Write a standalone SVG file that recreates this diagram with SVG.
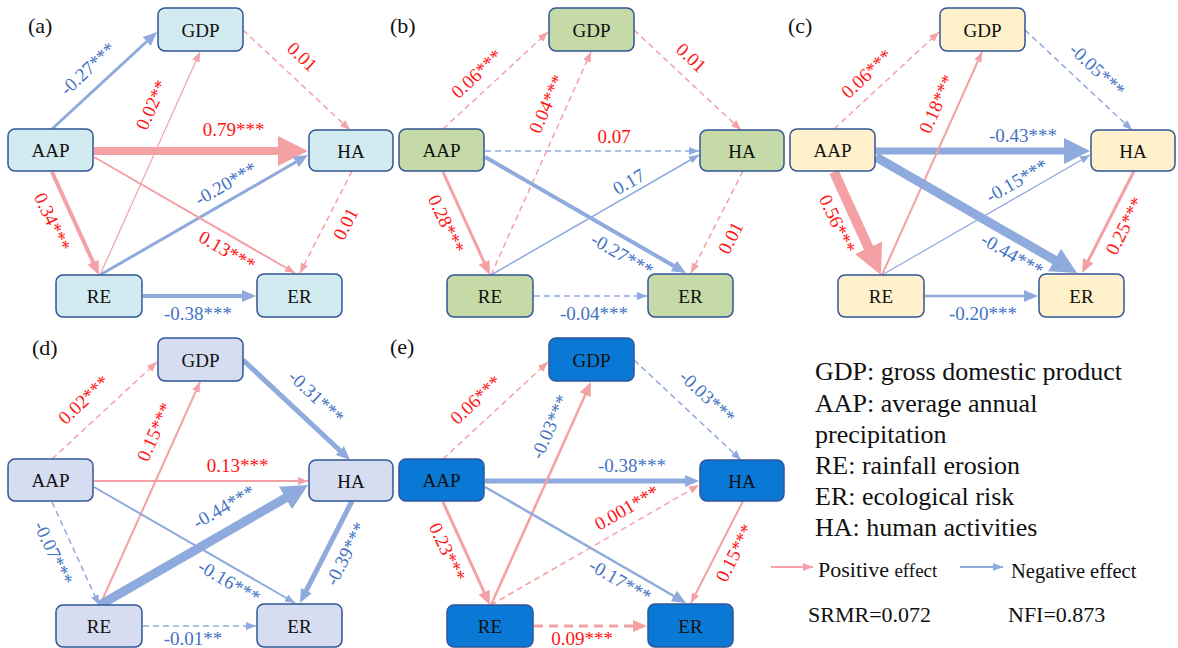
<svg xmlns="http://www.w3.org/2000/svg" width="1178" height="648" viewBox="0 0 1178 648" font-family="Liberation Serif, Times New Roman, serif">
<style>
.nr{stroke:#2F5597;stroke-width:1.5}
.fa{fill:#D2EBF0}.fb{fill:#C5DAA6}.fc{fill:#FFF1CB}.fd{fill:#D6DDF1}.fe{fill:#0A79D6}
.p{stroke:#F4A1A6;fill:none}.bl{stroke:#8FAADC;fill:none}
.d{stroke-dasharray:6 4}
.ps{marker-end:url(#ps)}.bs{marker-end:url(#bs)}.pm{marker-end:url(#pm)}.bm{marker-end:url(#bm)}.bL{marker-end:url(#bL)}.pX{marker-end:url(#pX)}
</style>
<defs>
<marker id="ps" markerUnits="userSpaceOnUse" markerWidth="10" markerHeight="8" refX="10" refY="4" orient="auto"><path d="M0,0 L10,4 L0,8 Z" fill="#F4A1A6"/></marker>
<marker id="bs" markerUnits="userSpaceOnUse" markerWidth="10" markerHeight="8" refX="10" refY="4" orient="auto"><path d="M0,0 L10,4 L0,8 Z" fill="#8FAADC"/></marker>
<marker id="pm" markerUnits="userSpaceOnUse" markerWidth="14" markerHeight="12" refX="3" refY="6" orient="auto"><path d="M0,0 L14,6 L0,12 Z" fill="#F4A1A6"/></marker>
<marker id="bm" markerUnits="userSpaceOnUse" markerWidth="14" markerHeight="12" refX="3" refY="6" orient="auto"><path d="M0,0 L14,6 L0,12 Z" fill="#8FAADC"/></marker>
<marker id="bL" markerUnits="userSpaceOnUse" markerWidth="26" markerHeight="26" refX="6" refY="13" orient="auto"><path d="M0,0 L26,13 L0,26 Z" fill="#8FAADC"/></marker>
<marker id="pX" markerUnits="userSpaceOnUse" markerWidth="30" markerHeight="30" refX="6" refY="15" orient="auto"><path d="M0,0 L30,15 L0,30 Z" fill="#F4A1A6"/></marker>
</defs>
<rect width="1178" height="648" fill="#fff"/>

<!-- panel labels -->
<g fill="#111">
<text font-family="Liberation Serif, serif" font-size="22" x="28" y="33">(a)</text>
<text font-family="Liberation Serif, serif" font-size="22" x="390" y="33">(b)</text>
<text font-family="Liberation Serif, serif" font-size="22" x="788" y="33">(c)</text>
<text font-family="Liberation Serif, serif" font-size="22" x="32" y="355">(d)</text>
<text font-family="Liberation Serif, serif" font-size="22" x="390" y="354">(e)</text>
</g>

<!-- ===== Panel a ===== -->
<g transform="translate(0,0)">
<g id="a-connectors">
<path class="bl bm" stroke-width="3" d="M52,129 L148.9,39.5"/>
<path class="p d ps" stroke-width="1.5" d="M243,30 L350,130"/>
<path class="p pX" stroke-width="8" d="M94,151 L284,151"/>
<path class="p pm" stroke-width="4" d="M52,172 L94.4,265"/>
<path class="p ps" stroke-width="1.2" d="M100,275 L200,52"/>
<path class="bl bm" stroke-width="3" d="M100,275 L298.5,160.5"/>
<path class="p ps" stroke-width="2" d="M94,157 L295,273"/>
<path class="p d ps" stroke-width="1.5" d="M352,171 L300,273"/>
<path class="bl bm" stroke-width="4" d="M143,296 L245,296"/>
<text font-family="Liberation Serif, serif" font-size="19" text-anchor="middle" fill="#4472C4" transform="translate(88,69) rotate(-43)" y="6">-0.27***</text>
<text font-family="Liberation Serif, serif" font-size="19" text-anchor="middle" fill="#FF1414" transform="translate(302,57) rotate(43)" y="6">0.01</text>
<text font-family="Liberation Serif, serif" font-size="19" text-anchor="middle" fill="#FF1414" x="233.5" y="136">0.79***</text>
<text font-family="Liberation Serif, serif" font-size="19" text-anchor="middle" fill="#FF1414" transform="translate(52,222) rotate(65)" y="6">0.34***</text>
<text font-family="Liberation Serif, serif" font-size="19" text-anchor="middle" fill="#FF1414" transform="translate(152,105) rotate(-66)" y="6">0.02**</text>
<text font-family="Liberation Serif, serif" font-size="19" text-anchor="middle" fill="#4472C4" transform="translate(226,184) rotate(-30)" y="6">-0.20***</text>
<text font-family="Liberation Serif, serif" font-size="19" text-anchor="middle" fill="#FF1414" transform="translate(227,251) rotate(30)" y="6">0.13***</text>
<text font-family="Liberation Serif, serif" font-size="19" text-anchor="middle" fill="#FF1414" transform="translate(346,224) rotate(-63)" y="6">0.01</text>
<text font-family="Liberation Serif, serif" font-size="19" text-anchor="middle" fill="#4472C4" x="198" y="320">-0.38***</text>
</g>
<g id="a-GDP"><rect class="nr fa" x="158" y="8" width="85" height="43" rx="7"/><text font-family="Liberation Serif, serif" font-size="19" text-anchor="middle" fill="#111" x="200.5" y="37">GDP</text></g>
<g id="a-AAP"><rect class="nr fa" x="8" y="129" width="85" height="42" rx="7"/><text font-family="Liberation Serif, serif" font-size="19" text-anchor="middle" fill="#111" x="50.5" y="157">AAP</text></g>
<g id="a-HA"><rect class="nr fa" x="309" y="130" width="84" height="41" rx="7"/><text font-family="Liberation Serif, serif" font-size="19" text-anchor="middle" fill="#111" x="351" y="157.5">HA</text></g>
<g id="a-RE"><rect class="nr fa" x="56" y="275" width="86" height="42" rx="7"/><text font-family="Liberation Serif, serif" font-size="19" text-anchor="middle" fill="#111" x="99" y="303">RE</text></g>
<g id="a-ER"><rect class="nr fa" x="257" y="274" width="85" height="43" rx="7"/><text font-family="Liberation Serif, serif" font-size="19" text-anchor="middle" fill="#111" x="299.5" y="303">ER</text></g>
</g>

<!-- ===== Panel b ===== -->
<g transform="translate(391,0)">
<g id="b-connectors">
<path class="p d ps" stroke-width="1.5" d="M52,129 L157,32"/>
<path class="p d ps" stroke-width="1.5" d="M243,30 L350,130"/>
<path class="bl d bs" stroke-width="1.5" d="M94,151 L308,151"/>
<path class="p pm" stroke-width="3" d="M52,172 L94.4,265"/>
<path class="p d ps" stroke-width="1.5" d="M100,275 L200,52"/>
<path class="bl bs" stroke-width="1.5" d="M100,275 L308,155"/>
<path class="bl bm" stroke-width="4" d="M94,157 L285.5,267.5"/>
<path class="p d ps" stroke-width="1.5" d="M352,171 L300,273"/>
<path class="bl d bs" stroke-width="1.5" d="M143,296 L256,296"/>
<text font-family="Liberation Serif, serif" font-size="19" text-anchor="middle" fill="#FF1414" transform="translate(86,74) rotate(-43)" y="6">0.06***</text>
<text font-family="Liberation Serif, serif" font-size="19" text-anchor="middle" fill="#FF1414" transform="translate(300,58) rotate(43)" y="6">0.01</text>
<text font-family="Liberation Serif, serif" font-size="19" text-anchor="middle" fill="#FF1414" x="223" y="143">0.07</text>
<text font-family="Liberation Serif, serif" font-size="19" text-anchor="middle" fill="#FF1414" transform="translate(55,224) rotate(65)" y="6">0.28***</text>
<text font-family="Liberation Serif, serif" font-size="19" text-anchor="middle" fill="#FF1414" transform="translate(156,104) rotate(-66)" y="6">0.04***</text>
<text font-family="Liberation Serif, serif" font-size="19" text-anchor="middle" fill="#4472C4" transform="translate(238,182) rotate(-30)" y="6">0.17</text>
<text font-family="Liberation Serif, serif" font-size="19" text-anchor="middle" fill="#4472C4" transform="translate(231,255) rotate(30)" y="6">-0.27***</text>
<text font-family="Liberation Serif, serif" font-size="19" text-anchor="middle" fill="#FF1414" transform="translate(340,238) rotate(-63)" y="6">0.01</text>
<text font-family="Liberation Serif, serif" font-size="19" text-anchor="middle" fill="#4472C4" x="203" y="320">-0.04***</text>
</g>
<g id="b-GDP"><rect class="nr fb" x="158" y="8" width="85" height="43" rx="7"/><text font-family="Liberation Serif, serif" font-size="19" text-anchor="middle" fill="#111" x="200.5" y="37">GDP</text></g>
<g id="b-AAP"><rect class="nr fb" x="8" y="129" width="85" height="42" rx="7"/><text font-family="Liberation Serif, serif" font-size="19" text-anchor="middle" fill="#111" x="50.5" y="157">AAP</text></g>
<g id="b-HA"><rect class="nr fb" x="309" y="130" width="84" height="41" rx="7"/><text font-family="Liberation Serif, serif" font-size="19" text-anchor="middle" fill="#111" x="351" y="157.5">HA</text></g>
<g id="b-RE"><rect class="nr fb" x="56" y="275" width="86" height="42" rx="7"/><text font-family="Liberation Serif, serif" font-size="19" text-anchor="middle" fill="#111" x="99" y="303">RE</text></g>
<g id="b-ER"><rect class="nr fb" x="257" y="274" width="85" height="43" rx="7"/><text font-family="Liberation Serif, serif" font-size="19" text-anchor="middle" fill="#111" x="299.5" y="303">ER</text></g>
</g>

<!-- ===== Panel c ===== -->
<g transform="translate(782,0)">
<g id="c-connectors">
<path class="p d ps" stroke-width="1.5" d="M52,129 L157,32"/>
<path class="bl d bs" stroke-width="1.5" d="M243,30 L350,130"/>
<path class="bl bL" stroke-width="7" d="M94,151 L288,151"/>
<path class="p pX" stroke-width="10" d="M52,172 L89,253.2"/>
<path class="p ps" stroke-width="2" d="M100,275 L200,52"/>
<path class="bl bs" stroke-width="1.2" d="M100,275 L308,155"/>
<path class="bl bL" stroke-width="9" d="M94,157 L277.7,263"/>
<path class="p pm" stroke-width="3" d="M352,171 L305,263.2"/>
<path class="bl bm" stroke-width="2.5" d="M143,296 L245,296"/>
<text font-family="Liberation Serif, serif" font-size="19" text-anchor="middle" fill="#FF1414" transform="translate(85,74) rotate(-43)" y="6">0.06***</text>
<text font-family="Liberation Serif, serif" font-size="19" text-anchor="middle" fill="#4472C4" transform="translate(315,70) rotate(43)" y="6">-0.05***</text>
<text font-family="Liberation Serif, serif" font-size="19" text-anchor="middle" fill="#4472C4" x="241" y="142">-0.43***</text>
<text font-family="Liberation Serif, serif" font-size="19" text-anchor="middle" fill="#FF1414" transform="translate(55,224) rotate(65)" y="6">0.56***</text>
<text font-family="Liberation Serif, serif" font-size="19" text-anchor="middle" fill="#FF1414" transform="translate(155,104) rotate(-66)" y="6">0.18***</text>
<text font-family="Liberation Serif, serif" font-size="19" text-anchor="middle" fill="#4472C4" transform="translate(235,181) rotate(-30)" y="6">-0.15***</text>
<text font-family="Liberation Serif, serif" font-size="19" text-anchor="middle" fill="#4472C4" transform="translate(230,255) rotate(30)" y="6">-0.44***</text>
<text font-family="Liberation Serif, serif" font-size="19" text-anchor="middle" fill="#FF1414" transform="translate(343,226) rotate(-63)" y="6">0.25***</text>
<text font-family="Liberation Serif, serif" font-size="19" text-anchor="middle" fill="#4472C4" x="201" y="320">-0.20***</text>
</g>
<g id="c-GDP"><rect class="nr fc" x="158" y="8" width="85" height="43" rx="7"/><text font-family="Liberation Serif, serif" font-size="19" text-anchor="middle" fill="#111" x="200.5" y="37">GDP</text></g>
<g id="c-AAP"><rect class="nr fc" x="8" y="129" width="85" height="42" rx="7"/><text font-family="Liberation Serif, serif" font-size="19" text-anchor="middle" fill="#111" x="50.5" y="157">AAP</text></g>
<g id="c-HA"><rect class="nr fc" x="309" y="130" width="84" height="41" rx="7"/><text font-family="Liberation Serif, serif" font-size="19" text-anchor="middle" fill="#111" x="351" y="157.5">HA</text></g>
<g id="c-RE"><rect class="nr fc" x="56" y="275" width="86" height="42" rx="7"/><text font-family="Liberation Serif, serif" font-size="19" text-anchor="middle" fill="#111" x="99" y="303">RE</text></g>
<g id="c-ER"><rect class="nr fc" x="257" y="274" width="85" height="43" rx="7"/><text font-family="Liberation Serif, serif" font-size="19" text-anchor="middle" fill="#111" x="299.5" y="303">ER</text></g>
</g>

<!-- ===== Panel d ===== -->
<g transform="translate(0,330)">
<g id="d-connectors">
<path class="p d ps" stroke-width="1.5" d="M52,129 L157,32"/>
<path class="bl bm" stroke-width="5" d="M243,30 L342,122.5"/>
<path class="p ps" stroke-width="2" d="M94,151 L308,151"/>
<path class="bl d bs" stroke-width="1.5" d="M52,172 L99,275"/>
<path class="p ps" stroke-width="2" d="M100,275 L200,52"/>
<path class="bl bL" stroke-width="9" d="M100,275 L290.7,165"/>
<path class="bl bs" stroke-width="2" d="M94,157 L295,273"/>
<path class="bl bm" stroke-width="5" d="M352,171 L305,263.2"/>
<path class="bl d bs" stroke-width="1.5" d="M143,296 L256,296"/>
<text font-family="Liberation Serif, serif" font-size="19" text-anchor="middle" fill="#FF1414" transform="translate(84,70) rotate(-43)" y="6">0.02***</text>
<text font-family="Liberation Serif, serif" font-size="19" text-anchor="middle" fill="#4472C4" transform="translate(316,67) rotate(43)" y="6">-0.31***</text>
<text font-family="Liberation Serif, serif" font-size="19" text-anchor="middle" fill="#FF1414" x="237.5" y="142">0.13***</text>
<text font-family="Liberation Serif, serif" font-size="19" text-anchor="middle" fill="#4472C4" transform="translate(53,223) rotate(65)" y="6">-0.07***</text>
<text font-family="Liberation Serif, serif" font-size="19" text-anchor="middle" fill="#FF1414" transform="translate(155,102) rotate(-66)" y="6">0.15***</text>
<text font-family="Liberation Serif, serif" font-size="19" text-anchor="middle" fill="#4472C4" transform="translate(224,177) rotate(-30)" y="6">-0.44***</text>
<text font-family="Liberation Serif, serif" font-size="19" text-anchor="middle" fill="#4472C4" transform="translate(229,252) rotate(30)" y="6">-0.16***</text>
<text font-family="Liberation Serif, serif" font-size="19" text-anchor="middle" fill="#4472C4" transform="translate(346,224) rotate(-63)" y="6">-0.39***</text>
<text font-family="Liberation Serif, serif" font-size="19" text-anchor="middle" fill="#4472C4" x="193" y="315">-0.01**</text>
</g>
<g id="d-GDP"><rect class="nr fd" x="158" y="8" width="85" height="43" rx="7"/><text font-family="Liberation Serif, serif" font-size="19" text-anchor="middle" fill="#111" x="200.5" y="37">GDP</text></g>
<g id="d-AAP"><rect class="nr fd" x="8" y="129" width="85" height="42" rx="7"/><text font-family="Liberation Serif, serif" font-size="19" text-anchor="middle" fill="#111" x="50.5" y="157">AAP</text></g>
<g id="d-HA"><rect class="nr fd" x="309" y="130" width="84" height="41" rx="7"/><text font-family="Liberation Serif, serif" font-size="19" text-anchor="middle" fill="#111" x="351" y="157.5">HA</text></g>
<g id="d-RE"><rect class="nr fd" x="56" y="275" width="86" height="42" rx="7"/><text font-family="Liberation Serif, serif" font-size="19" text-anchor="middle" fill="#111" x="99" y="303">RE</text></g>
<g id="d-ER"><rect class="nr fd" x="257" y="274" width="85" height="43" rx="7"/><text font-family="Liberation Serif, serif" font-size="19" text-anchor="middle" fill="#111" x="299.5" y="303">ER</text></g>
</g>

<!-- ===== Panel e ===== -->
<g transform="translate(391,330)">
<g id="e-connectors">
<path class="p d ps" stroke-width="1.5" d="M52,129 L157,32"/>
<path class="bl d bs" stroke-width="1.5" d="M243,30 L350,130"/>
<path class="bl bm" stroke-width="5" d="M94,151 L297,151"/>
<path class="p pm" stroke-width="3" d="M52,172 L94.4,265"/>
<path class="p pm" stroke-width="2.5" d="M100,275 L195.5,62"/>
<path class="p d ps" stroke-width="1.5" d="M100,275 L308,155"/>
<path class="bl bm" stroke-width="2.5" d="M94,157 L285.5,267.5"/>
<path class="p ps" stroke-width="2" d="M352,171 L300,273"/>
<path class="p pm" stroke-width="3" stroke-dasharray="9 6" d="M143,296 L245,296"/>
<text font-family="Liberation Serif, serif" font-size="19" text-anchor="middle" fill="#FF1414" transform="translate(85,70) rotate(-43)" y="6">0.06***</text>
<text font-family="Liberation Serif, serif" font-size="19" text-anchor="middle" fill="#4472C4" transform="translate(316,67) rotate(43)" y="6">-0.03***</text>
<text font-family="Liberation Serif, serif" font-size="19" text-anchor="middle" fill="#4472C4" x="241" y="142">-0.38***</text>
<text font-family="Liberation Serif, serif" font-size="19" text-anchor="middle" fill="#FF1414" transform="translate(56,222) rotate(65)" y="6">0.23***</text>
<text font-family="Liberation Serif, serif" font-size="19" text-anchor="middle" fill="#4472C4" transform="translate(159,97) rotate(-66)" y="6">-0.03***</text>
<text font-family="Liberation Serif, serif" font-size="19" text-anchor="middle" fill="#FF1414" transform="translate(236,178) rotate(-30)" y="6">0.001***</text>
<text font-family="Liberation Serif, serif" font-size="19" text-anchor="middle" fill="#4472C4" transform="translate(229,251) rotate(30)" y="6">-0.17***</text>
<text font-family="Liberation Serif, serif" font-size="19" text-anchor="middle" fill="#FF1414" transform="translate(344,223) rotate(-63)" y="6">0.15***</text>
<text font-family="Liberation Serif, serif" font-size="19" text-anchor="middle" fill="#FF1414" x="191" y="315">0.09***</text>
</g>
<g id="e-GDP"><rect class="nr fe" x="158" y="8" width="85" height="43" rx="7"/><text font-family="Liberation Serif, serif" font-size="19" text-anchor="middle" fill="#111" x="200.5" y="37">GDP</text></g>
<g id="e-AAP"><rect class="nr fe" x="8" y="129" width="85" height="42" rx="7"/><text font-family="Liberation Serif, serif" font-size="19" text-anchor="middle" fill="#111" x="50.5" y="157">AAP</text></g>
<g id="e-HA"><rect class="nr fe" x="309" y="130" width="84" height="41" rx="7"/><text font-family="Liberation Serif, serif" font-size="19" text-anchor="middle" fill="#111" x="351" y="157.5">HA</text></g>
<g id="e-RE"><rect class="nr fe" x="56" y="275" width="86" height="42" rx="7"/><text font-family="Liberation Serif, serif" font-size="19" text-anchor="middle" fill="#111" x="99" y="303">RE</text></g>
<g id="e-ER"><rect class="nr fe" x="257" y="274" width="85" height="43" rx="7"/><text font-family="Liberation Serif, serif" font-size="19" text-anchor="middle" fill="#111" x="299.5" y="303">ER</text></g>
</g>

<!-- ===== Legend ===== -->
<g id="legend" fill="#111">
<text font-family="Liberation Serif, serif" font-size="26" x="815" y="380">GDP: gross domestic product</text>
<text font-family="Liberation Serif, serif" font-size="26" x="815" y="412">AAP: average annual</text>
<text font-family="Liberation Serif, serif" font-size="26" x="815" y="443">precipitation</text>
<text font-family="Liberation Serif, serif" font-size="26" x="815" y="474">RE: rainfall erosion</text>
<text font-family="Liberation Serif, serif" font-size="26" x="815" y="505">ER: ecological risk</text>
<text font-family="Liberation Serif, serif" font-size="26" x="815" y="536">HA: human activities</text>
<path class="p ps" stroke-width="2" d="M771,567 L813,567"/>
<text font-family="Liberation Serif, serif" x="818" y="577"><tspan font-size="22">Positive </tspan><tspan font-size="19">effect</tspan></text>
<path class="bl bs" stroke-width="2" d="M960,567 L1003,567"/>
<text font-family="Liberation Serif, serif" x="1011" y="578" font-size="20.5">Negative effect</text>
<text font-family="Liberation Serif, serif" x="808" y="622" font-size="22">SRMR=0.072</text>
<text font-family="Liberation Serif, serif" x="1008" y="622" font-size="22">NFI=0.873</text>
</g>
</svg>
